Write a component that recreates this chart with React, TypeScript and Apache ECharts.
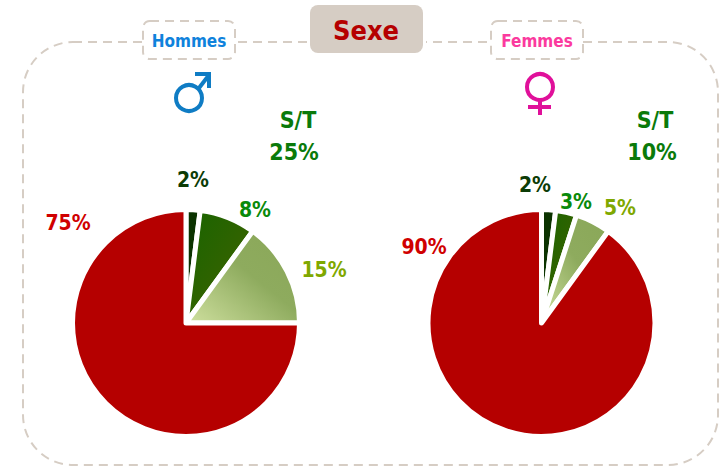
import React, { useEffect, useRef } from "react";
import * as echarts from "echarts";

const segments = ["a", "b", "c", "d"];
const hommes = [2, 8, 15, 75];
const femmes = [2, 3, 5, 90];
const hommesLabelPos = [[193, 180], [255, 210], [324, 270], [68, 223]];
const femmesLabelPos = [[535, 185], [576, 202], [620, 208], [424, 247]];
const labelColors = ["#0c3c06", "#0a8a0a", "#7fa800", "#d00000"];
const FONT = "'DejaVu Sans Condensed'";

const sliceColors = () => [
  "#0b3300",
  new echarts.graphic.LinearGradient(0, 0, 1, 1, [
    { offset: 0, color: "#186400" },
    { offset: 1, color: "#456200" },
  ]),
  new echarts.graphic.LinearGradient(0, 1, 1, 0, [
    { offset: 0, color: "#cfe09f" },
    { offset: 0.55, color: "#8eab5e" },
    { offset: 1, color: "#8aa758" },
  ]),
  "#b50000",
];

function pie(name: string, values: number[], center: number[], pos: number[][]) {
  const colors = sliceColors();
  return {
    type: "pie",
    name,
    center,
    radius: [0, 113.5],
    startAngle: 90,
    clockwise: true,
    silent: true,
    data: values.map((v, i) => ({
      name: segments[i],
      value: v,
      itemStyle: { color: colors[i] },
      label: { color: labelColors[i] },
    })),
    itemStyle: { borderColor: "#fff", borderWidth: 5 },
    label: {
      show: true,
      position: "outside",
      formatter: (p: any) => `${p.value}%`,
      fontFamily: FONT,
      fontSize: 21,
      fontWeight: "bold",
    },
    labelLine: { show: false },
    labelLayout: (p: any) => ({
      x: pos[p.dataIndex][0],
      y: pos[p.dataIndex][1],
      align: "center",
      verticalAlign: "middle",
    }),
  };
}

const dash = { stroke: "#d6cdc4", lineWidth: 2, lineDash: [9, 6] };

function text(t: string, x: number, y: number, fill: string, size: number) {
  return {
    type: "text",
    x,
    y,
    style: {
      text: t,
      fill,
      fontFamily: FONT,
      fontSize: size,
      fontWeight: "bold",
      align: "center",
      verticalAlign: "middle",
    },
  };
}

export default function App() {
  const ref = useRef<HTMLDivElement>(null);
  useEffect(() => {
    const chart = echarts.init(ref.current!, null, { renderer: "svg" });
    const blue = { stroke: "#0f7cc4", lineWidth: 4, fill: "none" };
    const pink = { stroke: "#e0109a", lineWidth: 4, fill: "none" };
    chart.setOption({
      animation: false,
      backgroundColor: "#fff",
      series: [
        pie("Hommes", hommes, [186, 323], hommesLabelPos),
        pie("Femmes", femmes, [541.5, 323], femmesLabelPos),
      ],
      graphic: [
        { type: "rect", z: -1, shape: { x: 23, y: 42, width: 695, height: 423, r: 50 }, style: { ...dash, fill: "none" } },
        { type: "rect", shape: { x: 143, y: 21, width: 92, height: 38, r: 7 }, style: { ...dash, fill: "#fff" } },
        { type: "rect", shape: { x: 491, y: 21, width: 92, height: 38, r: 7 }, style: { ...dash, fill: "#fff" } },
        { type: "rect", shape: { x: 307, y: 5, width: 119, height: 48, r: 0 }, style: { fill: "#fff" } },
        { type: "rect", shape: { x: 310, y: 5, width: 113, height: 48, r: 8 }, style: { fill: "#d6cdc4" } },
        text("Sexe", 366, 30, "#b50000", 27),
        text("Hommes", 189, 41, "#0f82dc", 17),
        text("Femmes", 537, 41, "#fb3a9e", 17),
        text("S/T", 298, 120, "#0a7a0a", 23),
        text("25%", 294, 152, "#0a7a0a", 23),
        text("S/T", 655, 120, "#0a7a0a", 23),
        text("10%", 652, 152, "#0a7a0a", 23),
        { type: "circle", shape: { cx: 189, cy: 98, r: 13 }, style: blue },
        { type: "line", shape: { x1: 199, y1: 88, x2: 209, y2: 75 }, style: blue },
        { type: "polyline", shape: { points: [[195, 74], [209, 74], [209, 88]] }, style: blue },
        { type: "circle", shape: { cx: 540, cy: 87, r: 13 }, style: pink },
        { type: "line", shape: { x1: 540, y1: 100, x2: 540, y2: 115 }, style: pink },
        { type: "line", shape: { x1: 528, y1: 107, x2: 551, y2: 107 }, style: pink },
      ],
    });
    return () => chart.dispose();
  }, []);
  return <div ref={ref} style={{ width: 721, height: 468, position: "absolute", left: 0, top: 0 }} />;
}
